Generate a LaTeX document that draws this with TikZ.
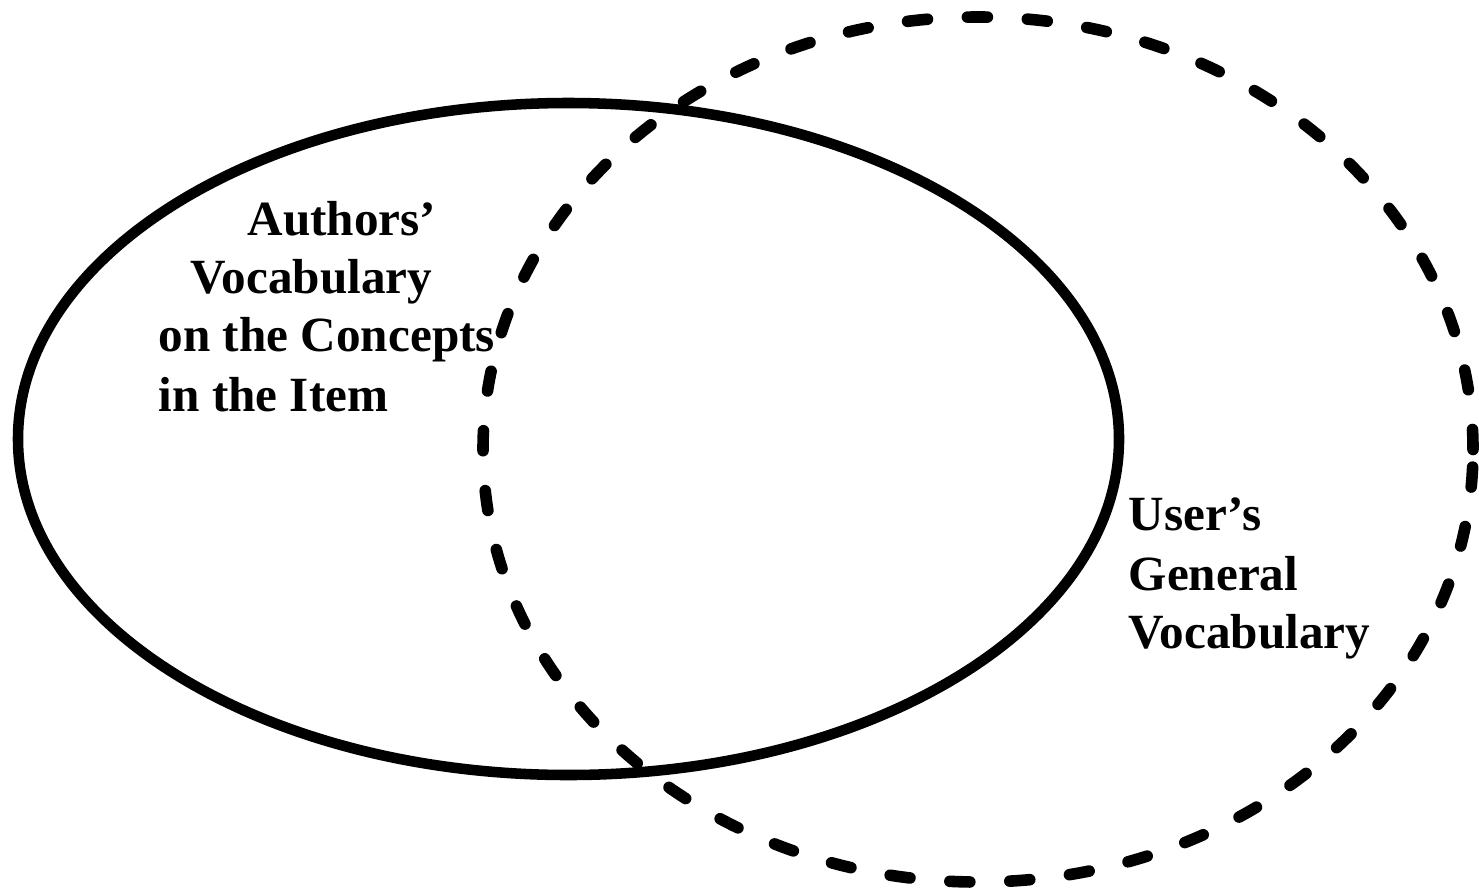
\documentclass[tikz,border=0pt]{standalone}
\usepackage{fontspec}
\setmainfont{Liberation Serif}
\begin{document}
\begin{tikzpicture}[
  label text/.style={anchor=base west, inner sep=0pt, font=\fontsize{14}{17}\selectfont\bfseries},
  solid set/.style={line width=3.0pt},
  dashed set/.style={line width=3.3pt, line cap=round, dash pattern=on 0.2cm off 0.4cm}
]
\useasboundingbox (0,0) rectangle (14.79,8.91);

% the authors' vocabulary (solid) and the user's vocabulary (dashed)
\draw[solid set] (5.685,4.52) ellipse [x radius=5.505cm, y radius=3.36cm];
\draw[dashed set] (9.78,4.415) ellipse [x radius=4.95cm, y radius=4.325cm];

% labels
\node[label text] (a1) at (2.47,6.56) {Authors’};
\node[label text] (a2) at (1.90,5.98) {Vocabulary};
\node[label text] (a3) at (1.58,5.40) {on the Concepts};
\node[label text] (a4) at (1.58,4.80) {in the Item};

\node[label text] (u1) at (11.28,3.61) {User’s};
\node[label text] (u2) at (11.28,3.01) {General};
\node[label text] (u3) at (11.28,2.43) {Vocabulary};
\end{tikzpicture}
\end{document}
